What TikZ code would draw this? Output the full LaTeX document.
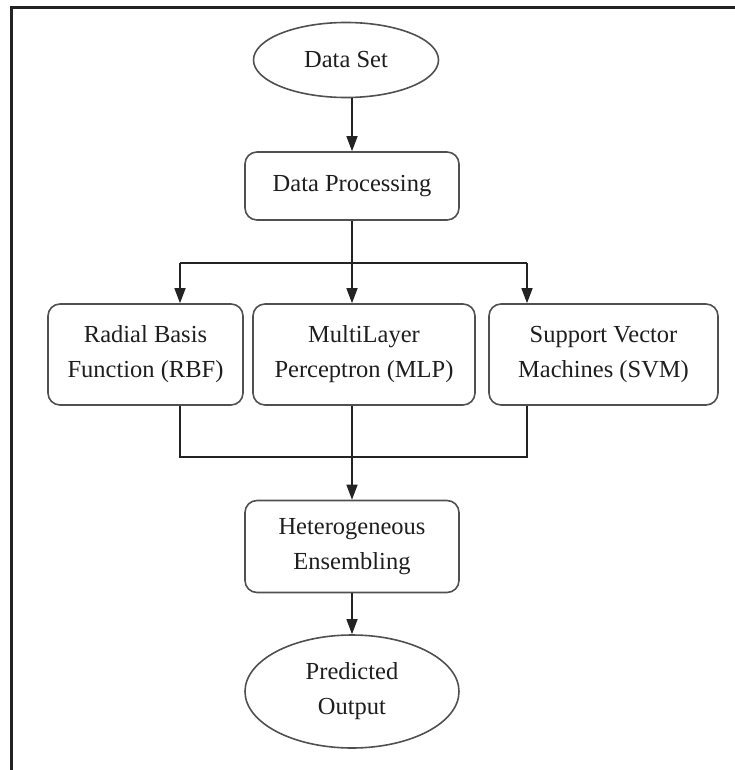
\documentclass[tikz,border=0pt]{standalone}
\usepackage{fontspec}
\setmainfont{Liberation Serif}
\usepackage{tikz}
\usetikzlibrary{shapes.geometric, arrows.meta, calc}
\usepackage{xcolor}
\definecolor{linegray}{RGB}{80,80,80}
\definecolor{textgray}{RGB}{30,30,30}
\definecolor{framegray}{RGB}{35,35,35}
\tikzset{
    caixa/.style={draw=linegray, rounded corners=12pt, line width=1.6pt, align=center, text=textgray, inner sep=0pt},
    oval/.style={ellipse, draw=linegray, line width=1.6pt, align=center, text=textgray, inner sep=0pt},
    link/.style={draw=framegray, line width=1.5pt},
    seta/.style={link, -{Triangle[length=15pt, width=11pt]}},
    moldura/.style={draw=framegray, line width=3pt}
}

\begin{document}
\begin{tikzpicture}[x=1pt, y=-1pt, font=\fontsize{24.5}{35}\selectfont]
    \useasboundingbox (0,0) rectangle (735,770);
    \draw[moldura] (11,772) -- (11,8) -- (737,8);

    % nodes
    \node[oval, minimum width=185pt, minimum height=75pt] (dataset) at (346,60) {Data Set};
    \node[caixa, minimum width=214pt, minimum height=68pt] (proc) at (352,186) {Data Processing};
    \node[caixa, minimum width=195pt, minimum height=101pt] (rbf) at (145.5,354.5) {Radial Basis\\Function (RBF)};
    \node[caixa, minimum width=222pt, minimum height=101pt] (mlp) at (364,354.5) {MultiLayer\\Perceptron (MLP)};
    \node[caixa, minimum width=229pt, minimum height=101pt] (svm) at (603.5,354.5) {Support Vector\\Machines (SVM)};
    \node[caixa, minimum width=214pt, minimum height=92pt] (ens) at (352,546.5) {Heterogeneous\\Ensembling};
    \node[oval, minimum width=214pt, minimum height=113pt] (pred) at (352,691.5) {Predicted\\Output};

    % bus points
    \coordinate (splitL) at (180,263);
    \coordinate (splitR) at (527,263);
    \coordinate (mergeL) at (180,457);
    \coordinate (mergeR) at (527,457);

    % connectors
    \draw[seta] (dataset.south -| proc.north) -- (proc.north);
    \draw[seta] (proc.south) -- (mlp.north -| proc.south);
    \draw[link] (splitL) -- (splitR);
    \draw[seta] (splitL) -- (rbf.north -| splitL);
    \draw[seta] (splitR) -- (svm.north -| splitR);
    \draw[link] (rbf.south -| mergeL) -- (mergeL) -- (mergeR) -- (svm.south -| mergeR);
    \draw[seta] (mlp.south -| proc.south) -- (ens.north);
    \draw[seta] (ens.south) -- (pred.north);
\end{tikzpicture}
\end{document}
